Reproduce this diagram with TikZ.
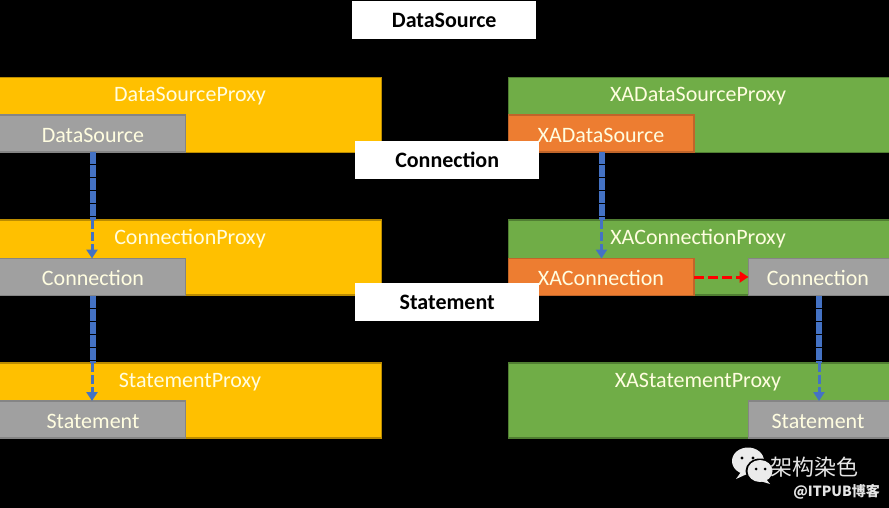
\documentclass[tikz,border=0pt]{standalone}
\usepackage{fontspec}
\setmainfont{Carlito}
\newfontfamily\cjk{Noto Sans CJK SC}
\usetikzlibrary{arrows.meta}
\definecolor{yel}{HTML}{FFC000}
\definecolor{yelb}{HTML}{BC8C00}
\definecolor{grn}{HTML}{70AD47}
\definecolor{grnb}{HTML}{507E32}
\definecolor{org}{HTML}{ED7D31}
\definecolor{orgb}{HTML}{C0652A}
\definecolor{gry}{HTML}{A0A0A0}
\definecolor{gryb}{HTML}{858585}
\definecolor{blu}{HTML}{4472C4}
\tikzset{
 boxbase/.style={draw,line width=1.6pt,anchor=north west,inner sep=0pt,outer sep=0pt,minimum height=#1},
 proxyY/.style={boxbase=75pt,fill=yel,draw=yelb,minimum width=382.5pt},
 proxyG/.style={boxbase=75pt,fill=grn,draw=grnb,minimum width=381pt},
 inGray/.style={boxbase=37pt,fill=gry,draw=gryb},
 inOrg/.style={boxbase=37pt,fill=org,draw=orgb},
 title/.style={text=white!88!yellow,font=\fontsize{22pt}{26pt}\selectfont,inner sep=0pt},
 whitebox/.style={fill=white,anchor=north west,inner sep=0pt,minimum width=184pt,minimum height=38pt,font=\fontsize{22pt}{26pt}\selectfont\bfseries,text=black},
 wide/.style={draw=blu,line width=6pt,dash pattern=on 12pt off 1pt},
 flow/.style={draw=blu,line width=3pt,dash pattern=on 9pt off 3pt,-{Triangle[length=9pt,width=11pt]}},
 redflow/.style={draw=red,line width=3pt,dash pattern=on 10pt off 4pt,-{Triangle[length=9pt,width=11pt]}},
 wm/.style={text=white!90!black,inner sep=0pt},
}
\begin{document}
\begin{tikzpicture}[x=1pt,y=-1pt]
\useasboundingbox[fill=black] (0,0) rectangle (889,508);
% left column
\node[proxyY] (dsp) at (-1,77.5) {};
\node[proxyY] (cp) at (-1,220) {};
\node[proxyY] (sp) at (-1,363) {};
\node[title] (dspt) at (190,96) {DataSourceProxy};
\node[title] (cpt) at (190,239) {ConnectionProxy};
\node[title] (spt) at (190,382) {StatementProxy};
\node[inGray,minimum width=186.5pt] (ds) at (-1,115) {};
\node[inGray,minimum width=186.5pt] (c) at (-1,258.5) {};
\node[inGray,minimum width=186.5pt] (s) at (-1,401) {};
\node[title] at (93,135) {DataSource};
\node[title] at (93,278) {Connection};
\node[title] at (93,421) {Statement};
% right column
\node[proxyG] (xdsp) at (508.5,77.5) {};
\node[proxyG] (xcp) at (508.5,220) {};
\node[proxyG] (xsp) at (508.5,363) {};
\node[title] (xdspt) at (698,96) {XADataSourceProxy};
\node[title] (xcpt) at (698,239) {XAConnectionProxy};
\node[title] (xspt) at (698,382) {XAStatementProxy};
\node[inOrg,minimum width=185.5pt] (xds) at (508.5,115) {};
\node[inOrg,minimum width=185.5pt] (xc) at (508.5,258.5) {};
\node[inGray,minimum width=141pt] (rc) at (748.5,258.5) {};
\node[inGray,minimum width=141pt] (rs) at (748.5,401) {};
\node[title] at (601,135) {XADataSource};
\node[title] at (601,278) {XAConnection};
\node[title] at (818,278) {Connection};
\node[title] at (818,421) {Statement};
% connectors
\draw[wide] ([xshift=93.5pt]ds.south west) -- ([xshift=93.5pt]ds.south west |- cp.north);
\draw[flow] ([xshift=93pt]dsp.south west |- cp.north) -- ([xshift=93pt]c.north west);
\draw[wide] ([xshift=93.5pt]c.south west) -- ([xshift=93.5pt]c.south west |- sp.north);
\draw[flow] ([xshift=93pt]c.south west |- sp.north) -- ([xshift=93pt]s.north west);
\draw[wide] ([xshift=93.5pt]xds.south west) -- ([xshift=93.5pt]xds.south west |- xcp.north);
\draw[flow] ([xshift=93pt]xds.south west |- xcp.north) -- ([xshift=93pt]xc.north west);
\draw[wide] (rc.south) -- (rc.south |- xsp.north);
\draw[flow] (rc.south |- xsp.north) -- (rs.north);
\draw[redflow] (xc.east) -- (rc.west);
% white labels
\node[whitebox] (tds) at (352,1) {DataSource};
\node[whitebox] (tc) at (355,141) {Connection};
\node[whitebox] (ts) at (355,283) {Statement};
% watermark
\fill[white!92!black] (748,461) ellipse (16pt and 13.5pt);
\fill[white!92!black] (741,472) -- (736,479) -- (747,474) -- cycle;
\fill[black] (760,471) ellipse (14.5pt and 12.5pt);
\fill[white!92!black] (760,471) ellipse (12.5pt and 11pt);
\fill[white!92!black] (766,479) -- (770,484) -- (760,481) -- cycle;
\fill[black] (742,458) circle (1.7pt) (753,458) circle (1.7pt) (756,469) circle (1.5pt) (765,469) circle (1.5pt);
\node[wm,font=\cjk\fontsize{22pt}{26pt}\selectfont] (wmname) at (814,467) {架构染色};
\node[wm,font=\cjk\fontsize{14pt}{17pt}\selectfont\bfseries,anchor=east] (wmsite) at (880,492) {@ITPUB博客};
\end{tikzpicture}
\end{document}
